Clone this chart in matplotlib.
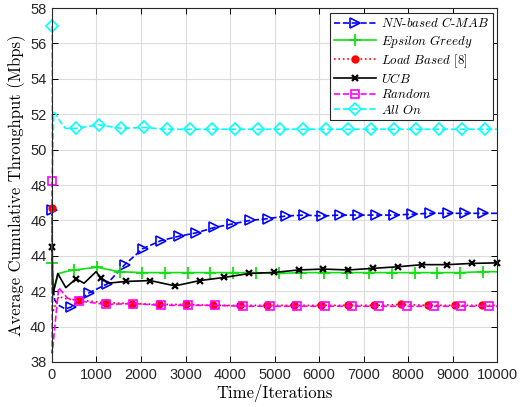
import numpy as np
import matplotlib.pyplot as plt

# ---- data (time in iterations, throughput in Mbps) ----
# NN-based C-MAB
t_nn = [0, 10, 60, 150, 300] + list(np.arange(425, 9700, 403)) + [10000]
v_nn = [46.6, 42.5, 41.5, 41.2, 41.0,
        41.1, 41.9, 42.4, 43.5, 44.4, 44.85, 45.1, 45.3, 45.6, 45.8, 46.0, 46.1,
        46.25, 46.3, 46.25, 46.3, 46.3, 46.3, 46.3, 46.35, 46.4, 46.4, 46.4, 46.4,
        46.4]
# Epsilon Greedy
t_eg = [0, 10, 50, 150, 300] + list(np.arange(500, 9700, 510)) + [10000]
v_eg = [43.6, 42.8, 42.2, 43.0, 43.1,
        43.2, 43.35, 43.1, 43.05, 43.05, 43.05, 43.05, 43.05, 43.05, 43.0,
        43.05, 43.05, 43.05, 43.05, 43.05, 43.05, 43.05, 43.05, 43.1,
        43.1]
# Load Based [8]
t_lb = [0, 15, 150, 350] + list(np.arange(600, 9700, 604)) + [10000]
v_lb = [46.7, 40.8, 41.7, 41.55,
        41.5, 41.35, 41.3, 41.25, 41.25, 41.2, 41.2, 41.2, 41.2, 41.2, 41.2,
        41.2, 41.25, 41.2, 41.2, 41.2,
        41.2]
# UCB
t_ucb = [0, 20, 130, 310, 540, 720, 990, 1096, 1250, 1652, 2208, 2764, 3320,
         3876, 4432, 4988, 5544, 6100, 6656, 7212, 7768, 8324, 8880, 9436, 9992]
v_ucb = [44.5, 41.8, 43.0, 42.2, 42.7, 42.45, 43.1, 42.76, 42.45, 42.55, 42.6,
         42.3, 42.6, 42.78, 43.0, 43.06, 43.2, 43.25, 43.2, 43.29, 43.38, 43.5,
         43.5, 43.57, 43.6]
mk_ucb = [0, 4, 7] + list(range(9, 25))
# Random
t_rd = [0, 5, 150, 350] + list(np.arange(600, 9900, 614)) + [10000]
v_rd = [48.2, 38.5, 42.2, 41.6,
        41.45, 41.25, 41.3, 41.2, 41.2, 41.2, 41.15, 41.15, 41.15, 41.15, 41.15,
        41.15, 41.15, 41.15, 41.15, 41.15,
        41.15]
# All On
t_on = [0, 6, 40, 90, 180, 300] + list(np.arange(540, 9800, 510)) + [10000]
v_on = [57.0, 48.3, 52.1, 52.0, 51.6, 51.2,
        51.2, 51.4, 51.2, 51.25, 51.15, 51.15, 51.15, 51.15, 51.15, 51.15,
        51.15, 51.15, 51.15, 51.15, 51.15, 51.15, 51.15, 51.15, 51.15,
        51.15]

labels = [r'$\mathit{NN}$-$\mathit{based}$ $\mathit{C}$-$\mathit{MAB}$',
          r'$\mathit{Epsilon}$ $\mathit{Greedy}$',
          r'$\mathit{Load}$ $\mathit{Based}$ [8]',
          r'$\mathit{UCB}$',
          r'$\mathit{Random}$',
          r'$\mathit{All}$ $\mathit{On}$']

yticks = np.arange(38, 59, 2)
xticks = np.arange(0, 10001, 1000)


def marks(n_head, n_total):
    # marker on the first point and on every regular sample
    return [0] + list(range(n_head, n_total - 1))


plt.rcParams['mathtext.fontset'] = 'cm'

fig = plt.figure(figsize=(5.21, 4.07), dpi=100)
ax = fig.add_axes([0.0998, 0.1106, 0.8542, 0.8697])

common = dict(lw=1.2, clip_on=False)
ax.plot(t_nn, v_nn, ls='--', color='#0000ff', marker='>', ms=6.5,
        mfc='none', mew=1.2, markevery=marks(5, len(t_nn)), label=labels[0],
        **common)
ax.plot(t_eg, v_eg, ls='-', color='#11e011', marker='+', ms=8,
        mew=1.3, markevery=marks(5, len(t_eg)), label=labels[1], **common)
ax.plot(t_lb, v_lb, ls=':', color='#ff0000', marker='o', ms=5,
        markevery=marks(4, len(t_lb)), label=labels[2], **common)
ax.plot(t_ucb, v_ucb, ls='-', color='black', marker='x', ms=5,
        mew=1.6, markevery=mk_ucb, label=labels[3], **common)
ax.plot(t_rd, v_rd, ls='--', color='#ff00ff', marker='s', ms=6,
        mfc='none', mew=1.2, markevery=marks(4, len(t_rd)), label=labels[4],
        **common)
ax.plot(t_on, v_on, ls='--', color='#00ffff', marker='D', ms=6,
        mfc='none', mew=1.2, markevery=marks(6, len(t_on)), label=labels[5],
        **common)

ax.set_xlim(0, 10000)
ax.set_ylim(38, 58)
ax.set_xticks(xticks)
ax.set_yticks(yticks)
for lab in ax.get_xticklabels() + ax.get_yticklabels():
    lab.set_fontfamily('Liberation Sans')
    lab.set_fontsize(10.5)
    lab.set_color('#262626')
ax.tick_params(direction='in', top=True, right=True, length=4, width=0.7,
               pad=4)
ax.grid(True, color='#dcdcdc', lw=0.8)
ax.set_axisbelow(True)
for s in ax.spines.values():
    s.set_linewidth(0.8)
    s.set_color('#262626')

ax.set_xlabel('Time/Iterations', fontfamily='cmr10', fontsize=12, labelpad=2)
ax.set_ylabel('Average Cumulative Throughput (Mbps)', fontfamily='cmr10',
              fontsize=12, labelpad=3)

leg = ax.legend(loc='upper right', prop={'family': 'cmr10', 'size': 9.3},
                fancybox=False, framealpha=1, edgecolor='#262626',
                borderpad=0.3, labelspacing=0.18, handlelength=3.2,
                handletextpad=0.4, borderaxespad=0.35)
leg.get_frame().set_linewidth(0.8)
leg.set_zorder(5)

fig.savefig('out.png', dpi=100)
